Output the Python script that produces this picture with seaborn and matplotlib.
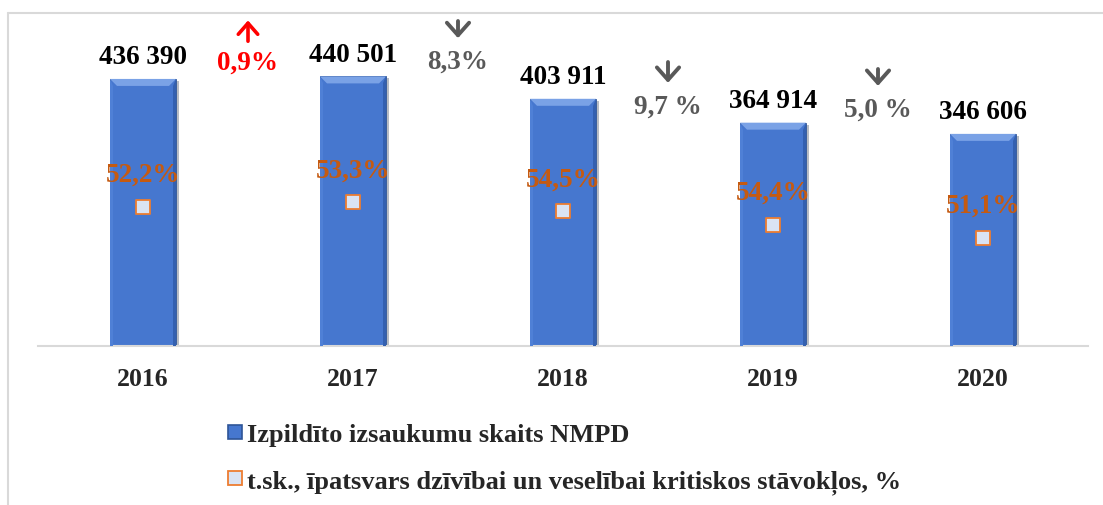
import numpy as np
import pandas as pd
import matplotlib
matplotlib.use("Agg")
import matplotlib.pyplot as plt
import seaborn as sns
from matplotlib.lines import Line2D
from matplotlib.patches import Polygon
import matplotlib.patheffects as pe

# ---- data ----
years = ["2016", "2017", "2018", "2019", "2020"]
calls = [436390, 440501, 403911, 364914, 346606]
critical_share = [52.2, 53.3, 54.5, 54.4, 51.1]
change_labels = ["0,9%", "8,3%", "9,7 %", "5,0 %"]
change_up = [True, False, False, False]
series_names = ["Izpildīto izsaukumu skaits NMPD",
                "t.sk., īpatsvars dzīvībai un veselībai kritiskos stāvokļos, %"]

# ---- layout (annotation positions in data units) ----
change_text_y = [464000, 466000, 391500, 387500]
arrow_top_y = [532000, 531000, 464000, 452600]
arrow_bot_y = [498000, 503000, 430000, 425000]

# ---- style ----
sns.set_theme(style="white")
plt.rcParams["font.family"] = ["Liberation Serif", "DejaVu Serif"]
plt.rcParams["font.weight"] = "bold"

BAR = "#4677CF"
BAR_EDGE = "#2F5597"
ORANGE = "#C55A11"
GREY = "#595959"
FS = 19.5

fig = plt.figure(figsize=(11.03, 5.06), dpi=100)
ax = fig.add_axes([38 / 1103, 159 / 506, 1050 / 1103, 306 / 506])

df = pd.DataFrame({"year": years, "calls": calls,
                   "share": critical_share})
df["marker_y"] = df["calls"] * df["share"] / 100.0

sns.barplot(data=df, x="year", y="calls", color=BAR, saturation=1,
            width=66 / 210, edgecolor=BAR_EDGE, linewidth=0.6, ax=ax, zorder=2)
ax.set_xlim(-0.5, len(years) - 0.5)
ax.set_ylim(0, 500000)

# bevel look derived from the bar patches
px_x = 1.0 / 210.0          # data x units per pixel
px_y = 500000 / 306.0       # data y units per pixel
for p in list(ax.patches):
    p.set_path_effects([pe.SimplePatchShadow(offset=(2, -1.5), alpha=0.3), pe.Normal()])
    x0, w, h = p.get_x(), p.get_width(), p.get_height()
    x1 = x0 + w
    dx, dy = 7 * px_x, 7 * px_y
    ax.add_patch(Polygon([(x0, h), (x1, h), (x1 - dx, h - dy), (x0 + dx, h - dy)],
                         closed=True, facecolor="#7AA2E6", edgecolor="none", zorder=3))
    ax.add_patch(Polygon([(x1, h), (x1, 0), (x1 - 3 * px_x, 0), (x1 - 3 * px_x, h - dy)],
                         closed=True, facecolor="#3460B0", edgecolor="none", zorder=3))
    ax.add_patch(Polygon([(x0, h), (x0, 0), (x0 + 3 * px_x, 0), (x0 + 3 * px_x, h - dy)],
                         closed=True, facecolor="#4F80D6", edgecolor="none", zorder=3))

ax.scatter(range(len(years)), df["marker_y"], marker="s", s=105,
           facecolor="#DAE3F3", edgecolor="#ED7D31", linewidth=1.3, zorder=4)

ax.set_xlabel("")
ax.set_ylabel("")
ax.set_yticks([])
for s in ["left", "right", "top"]:
    ax.spines[s].set_visible(False)
ax.spines["bottom"].set_color("#D9D9D9")
ax.spines["bottom"].set_linewidth(1.5)
ax.tick_params(axis="x", length=0, pad=15, labelsize=18.5)
for t in ax.get_xticklabels():
    t.set_fontweight("bold")

# value labels
for i, v in enumerate(calls):
    ax.annotate(f"{v:,}".replace(",", " "), (i, v), xytext=(0, 16),
                textcoords="offset points", ha="center", va="center",
                fontsize=FS, fontweight="bold", color="black", zorder=5)

# share labels
for i, (y, s) in enumerate(zip(df["marker_y"], critical_share)):
    ax.annotate(f"{s:.1f}%".replace(".", ","), (i, y), xytext=(0, 23),
                textcoords="offset points", ha="center", va="center",
                fontsize=FS, fontweight="bold", color=ORANGE, zorder=5)

# change labels between bars, with arrows
for i, (lab, up) in enumerate(zip(change_labels, change_up)):
    col = "#FF0000" if up else GREY
    ax.text(i + 0.5, change_text_y[i], lab, ha="center", va="center",
            fontsize=FS, fontweight="bold", color=col, clip_on=False, zorder=5)
    if up:
        start, end = arrow_bot_y[i], arrow_top_y[i]
        props = dict(arrowstyle="->,head_length=0.4,head_width=0.35", color=col,
                     lw=2.6, mutation_scale=20, shrinkA=0, shrinkB=0)
    else:
        start, end = arrow_top_y[i], arrow_bot_y[i]
        props = dict(arrowstyle="->,head_length=0.45,head_width=0.4", color=col,
                     lw=2.8, mutation_scale=20, shrinkA=0, shrinkB=0)
    ax.annotate("", xy=(i + 0.5, end), xytext=(i + 0.5, start),
                arrowprops=props, annotation_clip=False, zorder=5)

# legend
handles = [
    Line2D([], [], linestyle="none", marker="s", markersize=10,
           markerfacecolor=BAR, markeredgecolor=BAR_EDGE, markeredgewidth=1.2),
    Line2D([], [], linestyle="none", marker="s", markersize=10,
           markerfacecolor="#DAE3F3", markeredgecolor="#ED7D31", markeredgewidth=1.3),
]
fig.legend(handles, series_names, loc="upper left",
           bbox_to_anchor=(203 / 1103, 1 - 400 / 506), frameon=False,
           handlelength=0.6, handletextpad=0.15, labelspacing=0.85,
           prop={"family": "Liberation Serif", "weight": "bold", "size": 19})

# chart frame (top and left edges)
fig.add_artist(Line2D([8 / 1103, 8 / 1103], [0, 1 - 14 / 506], color="#D9D9D9", linewidth=1.5))
fig.add_artist(Line2D([8 / 1103, 1], [1 - 14 / 506, 1 - 14 / 506], color="#D9D9D9", linewidth=1.5))

fig.savefig("out.png", dpi=100)
